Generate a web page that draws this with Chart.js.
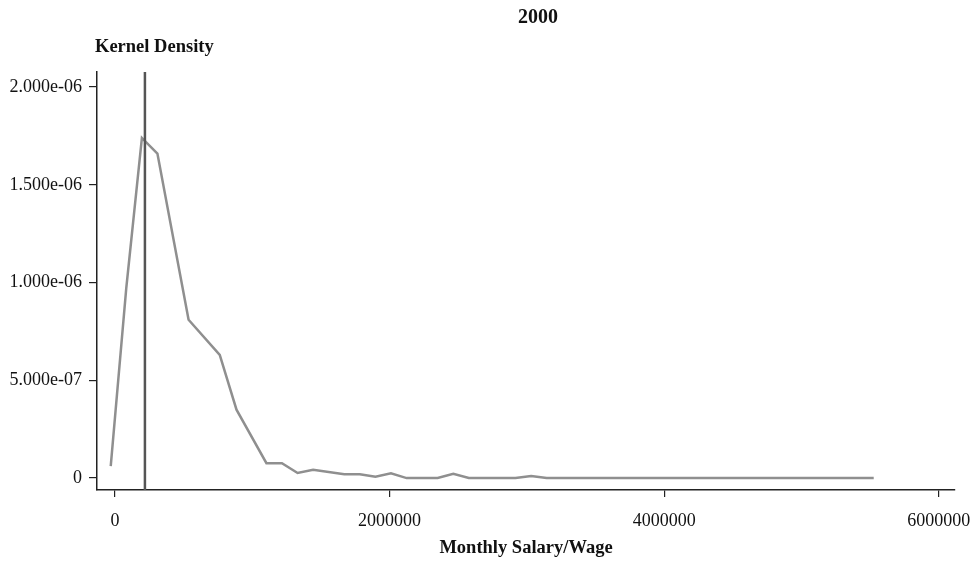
<!DOCTYPE html>
<html>
<head>
<meta charset="utf-8">
<script src="https://cdn.jsdelivr.net/npm/chart.js@4/dist/chart.umd.min.js"></script>
<style>
  html, body { margin: 0; padding: 0; background: #fff; }
  #wrap { width: 979px; height: 567px; }
</style>
</head>
<body>
<div id="wrap"><canvas id="chart" width="979" height="567"></canvas></div>
<script>
// ── Données ─────────────────────────────────────────────────
const salaire  = [-31000, 82000, 196000, 309000, 536000, 763000, 885000, 1103000, 1216000,
                  1330000, 1443000, 1670000, 1783000, 1897000, 2010000, 2124000, 2350000,
                  2464000, 2577000, 2917000, 3031000, 3144000, 5526000];
const densite  = [6.1e-8, 9.7e-7, 1.74e-6, 1.66e-6, 8.1e-7, 6.3e-7, 3.5e-7, 7.6e-8, 7.6e-8,
                  2.6e-8, 4.3e-8, 2.0e-8, 2.0e-8, 7e-9, 2.4e-8, 0, 0,
                  2.2e-8, 0, 0, 1.0e-8, 0, 0];
const ligneRef = 218000;              // trait vertical
const xTicks   = [0, 2000000, 4000000, 6000000];
const xLabels  = ['0', '2000000', '4000000', '6000000'];
const yTicks   = [0, 5e-7, 1e-6, 1.5e-6, 2e-6];
const yLabels  = ['0', '5.000e-07', '1.000e-06', '1.500e-06', '2.000e-06'];

const Y_MIN = -6.1e-8, Y_MAX = 2.077e-6;
const X_MIN = -131000, X_MAX = 6118000;
const POLICE = "'Liberation Serif', 'DejaVu Serif', serif";

// ── Textes (titre, titres d'axes) ───────────────────────────
const textes = {
  id: 'textes',
  afterDraw(c) {
    const g = c.ctx;
    g.save();
    g.fillStyle = '#111';
    g.textBaseline = 'middle';
    g.font = 'bold 20px ' + POLICE;
    g.textAlign = 'center';
    g.fillText('2000', 538, 18);
    g.font = 'bold 18.5px ' + POLICE;
    g.textAlign = 'left';
    g.fillText('Kernel Density', 95, 47);
    g.textAlign = 'center';
    g.fillText('Monthly Salary/Wage', (c.chartArea.left + c.chartArea.right) / 2, 548);
    g.restore();
  }
};

const ctx = document.getElementById('chart').getContext('2d');
new Chart(ctx, {
  type: 'scatter',
  data: {
    datasets: [
      {
        data: [{ x: ligneRef, y: Y_MIN }, { x: ligneRef, y: Y_MAX }],
        showLine: true,
        borderColor: '#555555',
        borderWidth: 2.5,
        pointRadius: 0
      },
      {
        data: salaire.map((s, i) => ({ x: s, y: densite[i] })),
        showLine: true,
        borderColor: '#8f8f8f',
        borderWidth: 2.5,
        pointRadius: 0,
        tension: 0
      }
    ]
  },
  options: {
    responsive: false,
    animation: false,
    devicePixelRatio: 1,
    layout: { padding: { top: 72, right: 24, bottom: 0, left: 0 } },
    plugins: { legend: { display: false }, tooltip: { enabled: false } },
    scales: {
      x: {
        type: 'linear',
        min: X_MIN, max: X_MAX,
        afterBuildTicks: s => { s.ticks = xTicks.map(v => ({ value: v })); },
        afterFit: s => { s.height = 77; s.paddingRight = 0; s.paddingLeft = 0; },
        grid: { drawOnChartArea: false, drawTicks: true, tickLength: 7, color: '#222', lineWidth: 1.2 },
        border: { display: true, color: '#222', width: 1.5 },
        ticks: {
          color: '#111', padding: 13, maxRotation: 0, autoSkip: false,
          font: { family: POLICE, size: 18 },
          callback: (v) => xLabels[xTicks.indexOf(v)]
        }
      },
      y: {
        type: 'linear',
        min: Y_MIN, max: Y_MAX,
        afterBuildTicks: s => { s.ticks = yTicks.map(v => ({ value: v })); },
        afterFit: s => { s.width = 97; s.paddingTop = 0; s.paddingBottom = 0; },
        grid: { drawOnChartArea: false, drawTicks: true, tickLength: 8, color: '#222', lineWidth: 1.2 },
        border: { display: true, color: '#222', width: 1.5 },
        ticks: {
          color: '#111', padding: 7, autoSkip: false,
          font: { family: POLICE, size: 18 },
          callback: (v) => yLabels[yTicks.indexOf(v)]
        }
      }
    }
  },
  plugins: [textes]
});
</script>
</body>
</html>
